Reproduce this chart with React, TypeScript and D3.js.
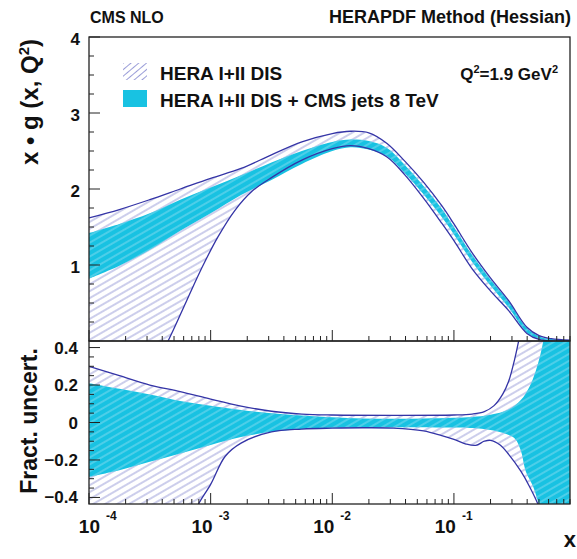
import React from "react";
import * as d3 from "d3";

// curves: [log10(x), value]
const heraHiTop: [number, number][] = [
  [-4, 1.62], [-3.75, 1.73], [-3.5, 1.86], [-3.25, 2.0], [-3, 2.14], [-2.75, 2.27],
  [-2.5, 2.45], [-2.25, 2.62], [-2, 2.73], [-1.85, 2.76], [-1.7, 2.74], [-1.55, 2.6],
  [-1.4, 2.36], [-1.25, 2.09], [-1.1, 1.78], [-1, 1.54], [-0.85, 1.16], [-0.7, 0.83],
  [-0.55, 0.53], [-0.4, 0.18], [-0.3, 0.07], [-0.2, 0.03], [-0.046, 0.01],
];
const heraLoTop: [number, number][] = [
  [-4, -2.5], [-3.7, -1.0], [-3.5, -0.45], [-3.35, 0], [-3.2, 0.52], [-3.07, 0.97],
  [-2.94, 1.37], [-2.8, 1.72], [-2.66, 1.97], [-2.5, 2.15], [-2.25, 2.38], [-2, 2.53],
  [-1.85, 2.57], [-1.7, 2.53], [-1.55, 2.42], [-1.4, 2.18], [-1.25, 1.88], [-1.1, 1.55],
  [-1, 1.32], [-0.85, 0.95], [-0.7, 0.66], [-0.55, 0.4], [-0.4, 0.1], [-0.3, 0.02],
  [-0.2, 0.0], [-0.046, 0],
];
const cmsHiTop: [number, number][] = [
  [-4, 1.42], [-3.75, 1.54], [-3.5, 1.68], [-3.25, 1.86], [-3, 2.02], [-2.75, 2.18],
  [-2.5, 2.35], [-2.25, 2.5], [-2, 2.62], [-1.85, 2.65], [-1.7, 2.63], [-1.55, 2.54],
  [-1.4, 2.31], [-1.25, 2.04], [-1.1, 1.74], [-1, 1.5], [-0.85, 1.13], [-0.7, 0.81],
  [-0.55, 0.52], [-0.4, 0.17], [-0.3, 0.06], [-0.2, 0.025], [-0.046, 0.01],
];
const cmsLoTop: [number, number][] = [
  [-4, 0.82], [-3.75, 0.99], [-3.5, 1.2], [-3.25, 1.45], [-3, 1.68], [-2.75, 1.92],
  [-2.5, 2.12], [-2.25, 2.33], [-2, 2.5], [-1.85, 2.55], [-1.7, 2.52], [-1.55, 2.43],
  [-1.4, 2.2], [-1.25, 1.93], [-1.1, 1.63], [-1, 1.4], [-0.85, 1.04], [-0.7, 0.73],
  [-0.55, 0.44], [-0.4, 0.11], [-0.3, 0.03], [-0.2, 0.008], [-0.046, 0],
];

// fractional uncertainties (values outside +-0.43 are cut by the frame)
const heraHiBot: [number, number][] = [
  [-4, 0.3], [-3.75, 0.25], [-3.5, 0.2], [-3.25, 0.165], [-3, 0.125], [-2.75, 0.088],
  [-2.5, 0.06], [-2.25, 0.045], [-2, 0.04], [-1.5, 0.038], [-1, 0.04], [-0.85, 0.045],
  [-0.75, 0.058], [-0.67, 0.09], [-0.6, 0.15], [-0.55, 0.22], [-0.5, 0.34], [-0.46, 0.46],
  [-0.4, 0.65], [-0.3, 0.9], [-0.15, 1.1], [0, 1.2],
];
const heraLoBot: [number, number][] = [
  [-4, -2.0], [-3.5, -1.2], [-3.25, -0.7], [-3.12, -0.46], [-3, -0.33], [-2.88, -0.18],
  [-2.75, -0.11], [-2.5, -0.05], [-2.25, -0.035], [-2, -0.03], [-1.75, -0.028], [-1.5, -0.03],
  [-1.25, -0.045], [-1.1, -0.07], [-1, -0.09], [-0.9, -0.115], [-0.82, -0.122], [-0.75, -0.1],
  [-0.7, -0.095], [-0.62, -0.12], [-0.55, -0.17], [-0.45, -0.26], [-0.38, -0.34], [-0.3, -0.45],
  [-0.25, -0.55], [-0.15, -0.75], [0, -0.9],
];
const cmsHiBot: [number, number][] = [
  [-4, 0.21], [-3.75, 0.18], [-3.5, 0.15], [-3.25, 0.115], [-3, 0.09], [-2.75, 0.067],
  [-2.5, 0.05], [-2.25, 0.038], [-2, 0.028], [-1.75, 0.022], [-1.5, 0.02], [-1.25, 0.021],
  [-1, 0.025], [-0.85, 0.03], [-0.7, 0.042], [-0.55, 0.07], [-0.45, 0.12], [-0.38, 0.19],
  [-0.33, 0.27], [-0.29, 0.36], [-0.26, 0.45], [-0.2, 0.6], [-0.1, 0.75], [0, 0.85],
];
const cmsLoBot: [number, number][] = [
  [-4, -0.29], [-3.75, -0.255], [-3.5, -0.21], [-3.25, -0.165], [-3, -0.12], [-2.75, -0.078],
  [-2.5, -0.05], [-2.25, -0.035], [-2, -0.028], [-1.5, -0.025], [-1, -0.027], [-0.85, -0.03],
  [-0.7, -0.04], [-0.6, -0.055], [-0.5, -0.085], [-0.45, -0.15], [-0.41, -0.26], [-0.35, -0.34],
  [-0.3, -0.44], [-0.25, -0.55], [-0.15, -0.7], [0, -0.85],
];

const xDecades = [-4, -3, -2, -1];
const yTopTicks = [0, 1, 2, 3, 4];
const yBotTicks = [-0.4, -0.2, 0, 0.2, 0.4];
const legendLabels = ["HERA I+II DIS", "HERA I+II DIS + CMS jets 8 TeV"];

const FONT = "'Liberation Sans', Arial, Helvetica, sans-serif";
const CYAN = "#18c2e2";
const LINE = "#3434a6";
const HATCH = "#8e92d4";

const L = 89, R = 570, T = 37, M = 341, B = 504;

export default function App() {
  const x = d3.scaleLog().domain([1e-4, 0.9]).range([L, R]);
  const yTop = d3.scaleLinear().domain([0, 4]).range([M, T]);
  const yBot = d3.scaleLinear().domain([-0.435, 0.435]).range([B, M]);

  const mkLine = (ys: d3.ScaleLinear<number, number>) =>
    d3.line<[number, number]>()
      .x(d => x(Math.pow(10, d[0])))
      .y(d => ys(d[1]))
      .curve(d3.curveCatmullRom.alpha(0.5));

  // closed outline: upper edge left->right, lower edge back right->left
  const band = (ys: d3.ScaleLinear<number, number>, hi: [number, number][], lo: [number, number][]) => {
    const ln = mkLine(ys);
    return ln(hi) + (ln(lo.slice().reverse()) || "").replace(/^M/, "L") + "Z";
  };

  const topLine = mkLine(yTop);
  const botLine = mkLine(yBot);

  const minors: number[] = [];
  xDecades.forEach(d => {
    for (let k = 2; k <= 9; k++) {
      const v = k * Math.pow(10, d);
      if (v <= 0.9) minors.push(v);
    }
  });

  const xTicks = (y0: number) => (
    <g stroke="#222" strokeWidth={1}>
      {xDecades.map(d => (
        <line key={"M" + d} x1={x(Math.pow(10, d))} x2={x(Math.pow(10, d))} y1={y0} y2={y0 - 11} />
      ))}
      {minors.map((v, i) => (
        <line key={i} x1={x(v)} x2={x(v)} y1={y0} y2={y0 - 5} />
      ))}
    </g>
  );

  const topMinorY = d3.range(0, 4.001, 0.25);
  const botMinorY = d3.range(-0.4, 0.4001, 0.05);

  return (
    <svg width={577} height={559} style={{ display: "block", position: "absolute", left: 0, top: 0 }}
      fontFamily={FONT} fontWeight="bold">
      <defs>
        <pattern id="hatch" patternUnits="userSpaceOnUse" width={8} height={6} patternTransform="rotate(-30)">
          <line x1={0} y1={3} x2={8} y2={3} stroke={HATCH} strokeWidth={0.9} />
        </pattern>
        <pattern id="hatchLeg" patternUnits="userSpaceOnUse" width={8} height={5} patternTransform="rotate(-40)">
          <line x1={0} y1={2.5} x2={8} y2={2.5} stroke={HATCH} strokeWidth={0.9} />
        </pattern>
        <pattern id="hatch2" patternUnits="userSpaceOnUse" width={8} height={6} patternTransform="rotate(-30)">
          <line x1={0} y1={3} x2={8} y2={3} stroke="#b4e6f4" strokeWidth={0.9} opacity={0.75} />
        </pattern>
        <clipPath id="clipTop"><rect x={L} y={T} width={R - L} height={M - T} /></clipPath>
        <clipPath id="clipBot"><rect x={L} y={M} width={R - L} height={B - M} /></clipPath>
        <clipPath id="clipCmsTop"><path d={band(yTop, cmsHiTop, cmsLoTop)} /></clipPath>
        <clipPath id="clipCmsBot"><path d={band(yBot, cmsHiBot, cmsLoBot)} /></clipPath>
      </defs>
      <rect width={577} height={559} fill="white" />

      {/* top panel */}
      <g clipPath="url(#clipTop)">
        <path d={band(yTop, heraHiTop, heraLoTop)} fill="url(#hatch)" />
        <path d={band(yTop, cmsHiTop, cmsLoTop)} fill={CYAN} />
        <g clipPath="url(#clipCmsTop)">
          <path d={band(yTop, heraHiTop, heraLoTop)} fill="url(#hatch2)" />
        </g>
        <path d={topLine(heraHiTop) || ""} fill="none" stroke={LINE} strokeWidth={1.3} />
        <path d={topLine(heraLoTop) || ""} fill="none" stroke={LINE} strokeWidth={1.3} />
      </g>

      {/* bottom panel */}
      <g clipPath="url(#clipBot)">
        <path d={band(yBot, heraHiBot, heraLoBot)} fill="url(#hatch)" />
        <path d={band(yBot, cmsHiBot, cmsLoBot)} fill={CYAN} />
        <g clipPath="url(#clipCmsBot)">
          <path d={band(yBot, heraHiBot, heraLoBot)} fill="url(#hatch2)" />
        </g>
        <path d={botLine(heraHiBot) || ""} fill="none" stroke={LINE} strokeWidth={1.3} />
        <path d={botLine(heraLoBot) || ""} fill="none" stroke={LINE} strokeWidth={1.3} />
      </g>

      {/* frames */}
      <rect x={L} y={T} width={R - L} height={M - T} fill="none" stroke="#222" strokeWidth={1.3} />
      <rect x={L} y={M} width={R - L} height={B - M} fill="none" stroke="#222" strokeWidth={1.3} />

      {/* ticks */}
      {xTicks(M)}
      {xTicks(B)}
      <g stroke="#222" strokeWidth={1}>
        {topMinorY.map((v, i) => {
          const major = yTopTicks.some(t => Math.abs(t - v) < 1e-6);
          return <line key={i} x1={L} x2={L + (major ? 11 : 5)} y1={yTop(v)} y2={yTop(v)} />;
        })}
        {botMinorY.map((v, i) => {
          const major = yBotTicks.some(t => Math.abs(t - v) < 1e-6);
          return <line key={i} x1={L} x2={L + (major ? 11 : 5)} y1={yBot(v)} y2={yBot(v)} />;
        })}
      </g>

      {/* tick labels */}
      <g fontSize={17} textAnchor="end" fill="#111">
        {yTopTicks.filter(t => t > 0).map(t => (
          <text key={t} x={80} y={yTop(t) + 8}>{t}</text>
        ))}
        {yBotTicks.map(t => (
          <text key={t} x={78} y={yBot(t) + 6}>{t === 0 ? "0" : d3.format(".1f")(t)}</text>
        ))}
      </g>
      <g fill="#111">
        {xDecades.map((d, i) => {
          const px = x(Math.pow(10, d)) + (i === 0 ? 11 : 2);
          return (
            <g key={d}>
              <text x={px} y={533} fontSize={19} textAnchor="end">10</text>
              <text x={px + 6} y={520} fontSize={12}>{d}</text>
            </g>
          );
        })}
      </g>

      {/* axis titles */}
      <text transform="translate(38,102) rotate(-90)" textAnchor="middle" fontSize={24} fill="#111">
        x • g (x, Q<tspan dy={-9} fontSize={15}>2</tspan><tspan dy={9}>)</tspan>
      </text>
      <text transform="translate(37,421) rotate(-90)" textAnchor="middle" fontSize={23} fill="#111">
        Fract. uncert.
      </text>
      <text x={576} y={547} textAnchor="end" fontSize={22} fill="#111">x</text>

      {/* titles */}
      <text x={90} y={23} fontSize={16} fill="#111">CMS NLO</text>
      <text x={571} y={23} fontSize={18} textAnchor="end" fill="#111">HERAPDF Method (Hessian)</text>

      {/* legend */}
      <rect x={123} y={63} width={24} height={17} fill="url(#hatchLeg)" />
      <rect x={123} y={90} width={24} height={17} fill={CYAN} />
      <text x={160} y={80} fontSize={19} fill="#111">{legendLabels[0]}</text>
      <text x={160} y={107} fontSize={19} fill="#111">{legendLabels[1]}</text>
      <text x={558} y={80} fontSize={17} textAnchor="end" fill="#111">
        Q<tspan dy={-7} fontSize={11}>2</tspan><tspan dy={7}>=1.9 GeV</tspan><tspan dy={-7} fontSize={11}>2</tspan>
      </text>
    </svg>
  );
}
